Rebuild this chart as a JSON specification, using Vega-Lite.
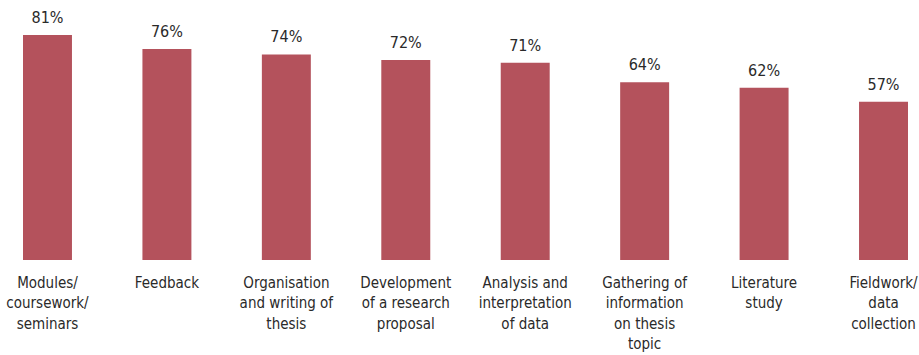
{
  "$schema": "https://vega.github.io/schema/vega-lite/v6.json",
  "width": 885,
  "height": 250,
  "autosize": {"type": "none"},
  "padding": {"left": 23, "top": 10, "right": 11, "bottom": 95},
  "background": "white",
  "config": {"view": {"stroke": null}, "font": "DejaVu Sans Condensed"},
  "data": {"values": [
    {"category": "Modules/\ncoursework/\nseminars", "share": 0.81},
    {"category": "Feedback", "share": 0.76},
    {"category": "Organisation\nand writing of\nthesis", "share": 0.74},
    {"category": "Development\nof a research\nproposal", "share": 0.72},
    {"category": "Analysis and\ninterpretation\nof data", "share": 0.71},
    {"category": "Gathering of\ninformation\non thesis\ntopic", "share": 0.64},
    {"category": "Literature\nstudy", "share": 0.62},
    {"category": "Fieldwork/\ndata\ncollection", "share": 0.57}
  ]},
  "encoding": {
    "x": {
      "field": "category", "type": "nominal", "sort": null,
      "scale": {"paddingInner": 0.59, "paddingOuter": 0},
      "axis": {
        "title": null, "domain": false, "ticks": false, "labelAngle": 0,
        "labelExpr": "split(datum.label, '\\n')",
        "labelFont": "DejaVu Sans Condensed", "labelFontSize": 15,
        "labelColor": "#2a2a2a", "labelLineHeight": 20.5,
        "labelBaseline": "alphabetic", "labelPadding": 27,
        "labelAlign": "center", "labelLimit": 0, "labelOverlap": false
      }
    },
    "y": {
      "field": "share", "type": "quantitative",
      "scale": {"domain": [0, 0.9]}, "axis": null
    }
  },
  "layer": [
    {"mark": {"type": "bar", "color": "#b4525c"}},
    {
      "mark": {"type": "text", "baseline": "alphabetic", "dy": -12, "fontSize": 16, "color": "#2a2a2a", "font": "DejaVu Sans Condensed"},
      "encoding": {"text": {"field": "share", "type": "quantitative", "format": ".0%"}}
    }
  ]
}
